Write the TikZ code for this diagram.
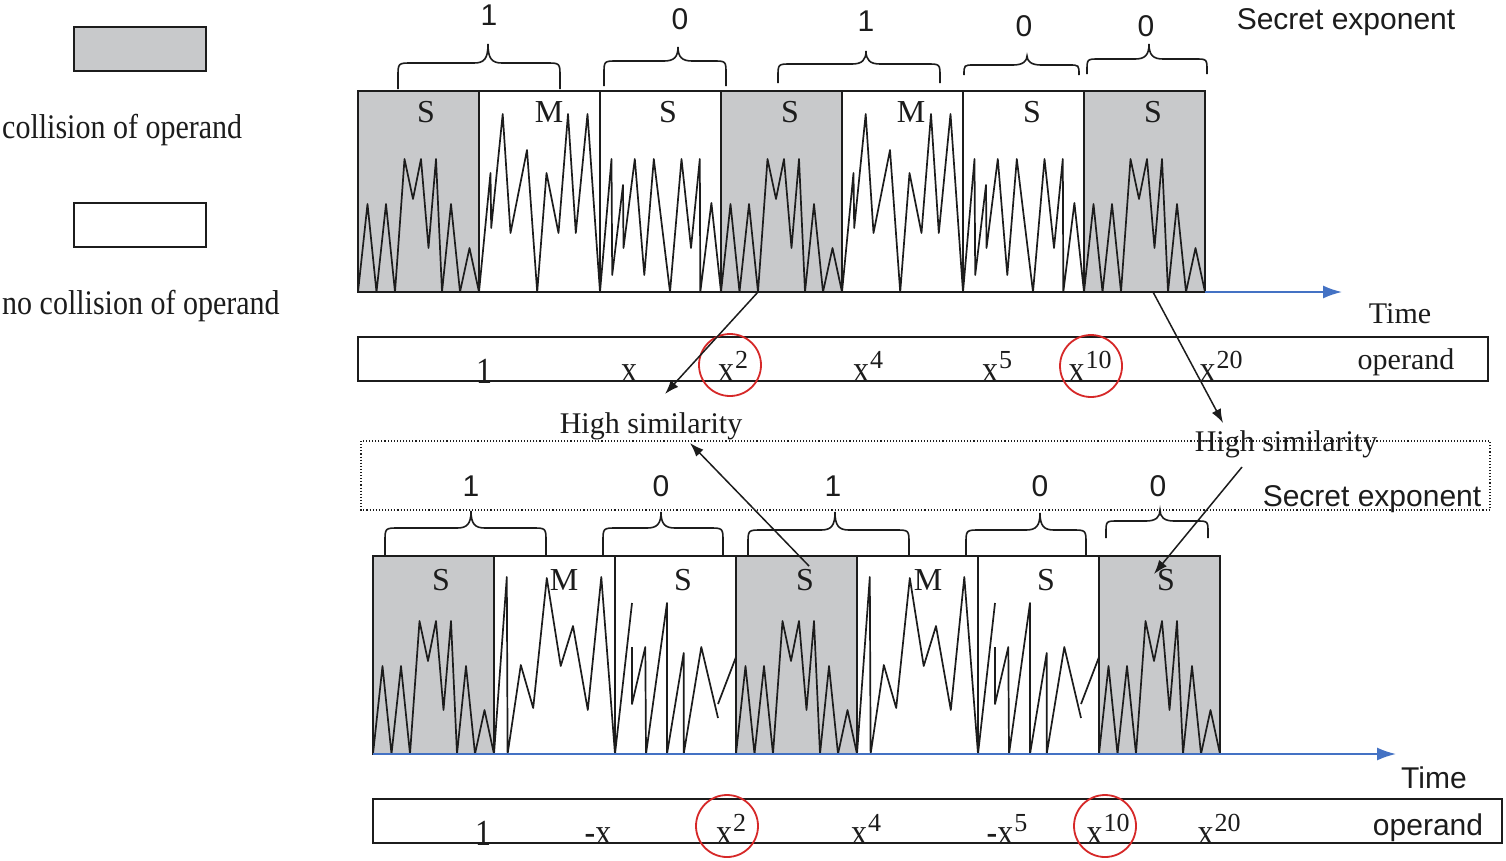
\documentclass[tikz,border=0pt]{standalone}
\usepackage{fontspec}
\usepackage{graphicx}
\setmainfont{Liberation Serif}
\setsansfont{Liberation Sans}
\usetikzlibrary{arrows.meta}
\definecolor{blkgray}{RGB}{200,201,203}
\definecolor{axblue}{RGB}{68,114,196}
\definecolor{cred}{RGB}{214,40,40}
\definecolor{ink}{RGB}{28,28,28}
\tikzset{
  txtserif/.style={font=\fontsize{30}{36}\selectfont, inner sep=0pt, text=ink},
  txtsans/.style={font=\sffamily\fontsize{30}{36}\selectfont, inner sep=0pt, text=ink},
  oplabel/.style={font=\fontsize{32}{36}\selectfont, inner sep=0pt, anchor=base, text=ink},
  blklabel/.style={font=\fontsize{32}{38}\selectfont, inner sep=0pt, anchor=base, text=ink},
  wavel/.style={draw=ink, line width=1.7pt, line join=round},
  blkbox/.style={draw=ink, line width=1.8pt},
  grayblk/.style={blkbox, fill=blkgray},
  bracel/.style={draw=ink, line width=1.6pt},
  axisl/.style={draw=axblue, line width=1.8pt, -{Latex[length=19pt,width=13pt]}},
  simarrow/.style={draw=ink, line width=1.5pt, -{Latex[length=14pt,width=10pt]}},
  redc/.style={draw=cred, line width=1.8pt},
  opbox/.style={draw=ink, line width=1.8pt},
}
\newcommand{\opm}[1]{\scalebox{1}[1.15]{#1}}
\newcommand{\sps}[1]{\kern1pt\raisebox{13pt}{\fontsize{26}{26}\selectfont #1}}
% gray S waveform
\newcommand{\GWave}[2]{\draw[wavel,shift={(#1,#2)}] (0,0) -- (9.5,-88) -- (18.5,0) -- (28,-88) -- (37,0) -- (46.5,-133) -- (55,-93) -- (63,-133) -- (70.5,-44) -- (78,-133) -- (84,0) -- (93,-88) -- (102,0) -- (111.5,-44) -- (121,0);}
% top M waveform
\newcommand{\MWave}[2]{\draw[wavel,shift={(#1,#2)}] (0,0) -- (11.5,-119) -- (12.2,-64) -- (23.7,-178) -- (31.5,-59) -- (48,-142) -- (58.2,0) -- (67.5,-119) -- (79.5,-59) -- (89,-178) -- (96.8,-59) -- (108.5,-178) -- (121,0);}
% top white S waveform
\newcommand{\SWave}[2]{\draw[wavel,shift={(#1,#2)}] (0,0) -- (11.5,-133) -- (12.2,-17) -- (23,-107) -- (23.5,-44) -- (34.8,-133) -- (44.3,-17) -- (53.8,-133) -- (70,0) -- (81.5,-133) -- (91,-44) -- (99.8,-133) -- (100.3,0) -- (111.4,-89) -- (121,0);}
% bottom M waveform
\newcommand{\MbWave}[2]{\draw[wavel,shift={(#1,#2)}] (0,0) -- (12.8,-177) -- (13.6,0) -- (26.8,-89) -- (39.2,-46) -- (52.8,-176) -- (66.7,-88) -- (79,-128) -- (93.8,-44) -- (107.3,-177) -- (121,0);}
% bottom white S waveform
\newcommand{\SbWave}[2]{\draw[wavel,shift={(#1,#2)}] (0,0) -- (17,-151) (17,-107) -- (17,-50) -- (30.3,-107) -- (31,0) -- (52,-151) -- (52,0) -- (68.7,-101) -- (68.7,0) -- (86.3,-107) -- (103,-36) (103,-50) -- (121,-97);}
% brace: x1,x2,xm,ybottom,yflat,ytip,r
\newcommand{\Brace}[7]{\draw[bracel] (#1,#4) -- (#1,#5+#7) .. controls (#1,#5) .. (#1+#7,#5) -- (#3-14,#5) .. controls (#3-4,#5) and (#3,#5-4) .. (#3,#6) .. controls (#3,#5-4) and (#3+4,#5) .. (#3+14,#5) -- (#2-#7,#5) .. controls (#2,#5) .. (#2,#5+#7) -- (#2,#4);}
\begin{document}
\begin{tikzpicture}[x=1pt,y=-1pt]
\useasboundingbox[fill=white] (0,0) rectangle (1506,860);
% legend
\draw[grayblk] (74,27) rectangle (206,71);
\draw[blkbox] (74,203) rectangle (206,247);
\node[txtserif, anchor=base west] (legcol) at (2,138) {\opm{collision of operand}};
\node[txtserif, anchor=base west] (legnocol) at (2,314) {\opm{no collision of operand}};

% ---------- top row ----------
\draw[grayblk] (358,91) rectangle (479,292);
\draw[blkbox] (479,91) rectangle (600,292);
\draw[blkbox] (600,91) rectangle (721,292);
\draw[grayblk] (721,91) rectangle (842,292);
\draw[blkbox] (842,91) rectangle (963,292);
\draw[blkbox] (963,91) rectangle (1084,292);
\draw[grayblk] (1084,91) rectangle (1205,292);
\GWave{358}{292}
\MWave{479}{292}
\SWave{600}{292}
\GWave{721}{292}
\MWave{842}{292}
\SWave{963}{292}
\GWave{1084}{292}
\node[blklabel] (tl1) at (426,122) {S};
\node[blklabel] (tl2) at (549,122) {M};
\node[blklabel] (tl3) at (668,122) {S};
\node[blklabel] (tl4) at (790,122) {S};
\node[blklabel] (tl5) at (911,122) {M};
\node[blklabel] (tl6) at (1032,122) {S};
\node[blklabel] (tl7) at (1153,122) {S};
\coordinate (taxs) at (1205,292);
\coordinate (taxe) at (1342,292);
\draw[axisl] (taxs) -- (taxe);
\node[txtserif, anchor=base] (ttime) at (1400,323) {Time};

% top braces and exponent bits
\Brace{398}{560}{488}{89}{63}{44}{14}
\Brace{604}{726}{678}{86}{61}{47}{13}
\Brace{778}{940}{866}{83}{64}{51}{13}
\Brace{964}{1079}{1027}{75}{65}{56}{10}
\Brace{1087}{1207}{1149}{74}{59}{44}{12}
\node[txtsans, anchor=base] (tb1) at (489,25) {1};
\node[txtsans, anchor=base] (tb2) at (680,29) {0};
\node[txtsans, anchor=base] (tb3) at (866,31) {1};
\node[txtsans, anchor=base] (tb4) at (1024,36) {0};
\node[txtsans, anchor=base] (tb5) at (1146,36) {0};
\node[txtsans, anchor=base] (tsecret) at (1346,29) {Secret exponent};

% top operand box
\draw[opbox] (358,337) rectangle (1488,381);
\node[oplabel] (to1) at (484,383) {\opm{1}};
\node[oplabel] (to2) at (629,381) {\opm{x}};
\node[oplabel] (to3) at (733,381) {\opm{x}\sps{2}};
\node[oplabel] (to4) at (868,381) {\opm{x}\sps{4}};
\node[oplabel] (to5) at (997,381) {\opm{x}\sps{5}};
\node[oplabel] (to6) at (1090,381) {\opm{x}\sps{10}};
\node[oplabel] (to7) at (1221,381) {\opm{x}\sps{20}};
\node[txtserif, anchor=base] (toper) at (1406,369) {operand};
\draw[redc] (730,365) circle[radius=31pt];
\draw[redc] (1091,366) circle[radius=31pt];

% middle
\draw[ink, line width=1.1pt, dotted] (361,441) rectangle (1490,510);
\node[txtserif, anchor=base] (hs1) at (651,433) {High similarity};
\node[txtserif, anchor=base] (hs2) at (1286,451) {High similarity};
\node[txtsans, anchor=base] (bsecret) at (1372,506) {Secret exponent};

% ---------- bottom row ----------
\draw[grayblk] (373,556) rectangle (494,754);
\draw[blkbox] (494,556) rectangle (615,754);
\draw[blkbox] (615,556) rectangle (736,754);
\draw[grayblk] (736,556) rectangle (857,754);
\draw[blkbox] (857,556) rectangle (978,754);
\draw[blkbox] (978,556) rectangle (1099,754);
\draw[grayblk] (1099,556) rectangle (1220,754);
\GWave{373}{754}
\MbWave{494}{754}
\SbWave{615}{754}
\GWave{736}{754}
\MbWave{857}{754}
\SbWave{978}{754}
\GWave{1099}{754}
\node[blklabel] (bl1) at (441,590) {S};
\node[blklabel] (bl2) at (564,590) {M};
\node[blklabel] (bl3) at (683,590) {S};
\node[blklabel] (bl4) at (805,590) {S};
\node[blklabel] (bl5) at (928,590) {M};
\node[blklabel] (bl6) at (1046,590) {S};
\node[blklabel] (bl7) at (1166,590) {S};
\coordinate (baxs) at (373,754);
\coordinate (baxe) at (1396,754);
\draw[axisl] (baxs) -- (baxe);
\node[txtsans, anchor=base] (btime) at (1434,788) {Time};

% bottom braces and bits
\Brace{385}{546}{471}{555}{528}{511}{14}
\Brace{603}{723}{661}{555}{528}{512}{14}
\Brace{748}{909}{835}{555}{530}{512}{14}
\Brace{966}{1086}{1040}{555}{530}{513}{14}
\Brace{1106}{1208}{1160}{538}{521}{510}{12}
\node[txtsans, anchor=base] (bb1) at (471,496) {1};
\node[txtsans, anchor=base] (bb2) at (661,496) {0};
\node[txtsans, anchor=base] (bb3) at (833,496) {1};
\node[txtsans, anchor=base] (bb4) at (1040,496) {0};
\node[txtsans, anchor=base] (bb5) at (1158,496) {0};

% bottom operand box
\draw[opbox] (373,799) rectangle (1502,843);
\node[oplabel] (bo1) at (483,845) {\opm{1}};
\node[oplabel] (bo2) at (598,844) {\opm{-x}};
\node[oplabel] (bo3) at (731,844) {\opm{x}\sps{2}};
\node[oplabel] (bo4) at (866,844) {\opm{x}\sps{4}};
\node[oplabel] (bo5) at (1007,844) {\opm{-x}\sps{5}};
\node[oplabel] (bo6) at (1108,844) {\opm{x}\sps{10}};
\node[oplabel] (bo7) at (1219,844) {\opm{x}\sps{20}};
\node[txtsans, anchor=base] (boper) at (1428,835) {operand};
\draw[redc] (727,826) circle[radius=31pt];
\draw[redc] (1105,826) circle[radius=31pt];

% similarity arrows
\coordinate (a1s) at (758,292);
\coordinate (a1e) at (665,394);
\coordinate (a2s) at (1153,292);
\coordinate (a2e) at (1223,423);
\coordinate (a3s) at (809,566);
\coordinate (a3e) at (690,443);
\coordinate (a4s) at (1242,467);
\coordinate (a4e) at (1154,574);
\draw[simarrow] (a1s) -- (a1e);
\draw[simarrow] (a2s) -- (a2e);
\draw[simarrow] (a3s) -- (a3e);
\draw[simarrow] (a4s) -- (a4e);
\end{tikzpicture}
\end{document}
